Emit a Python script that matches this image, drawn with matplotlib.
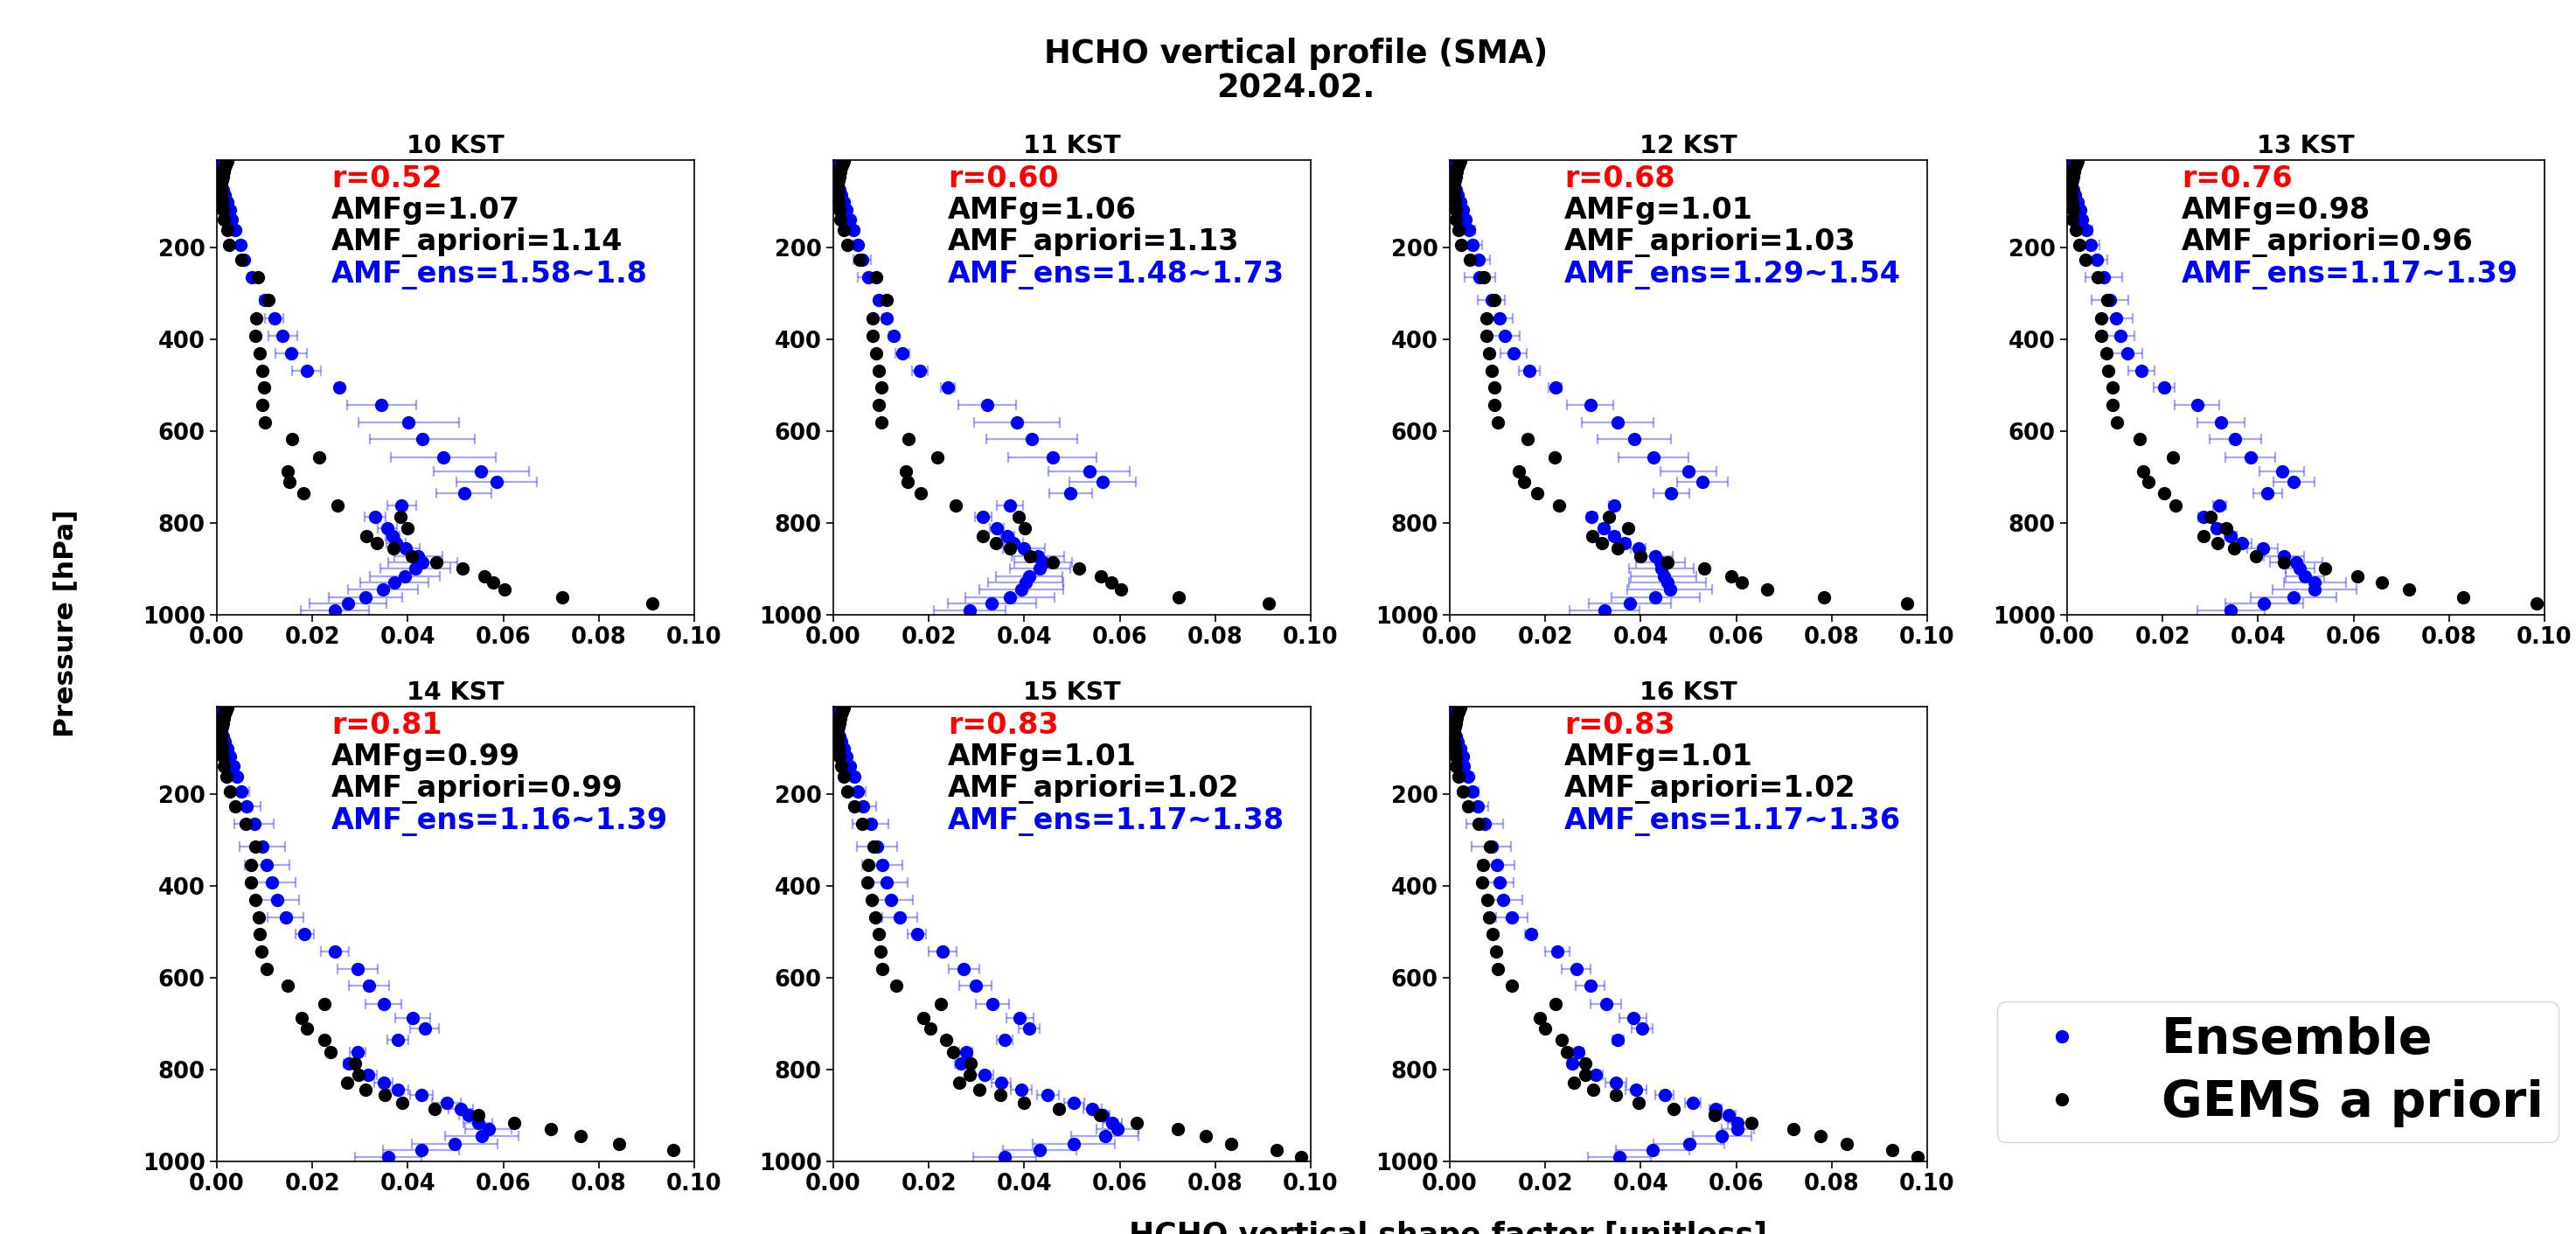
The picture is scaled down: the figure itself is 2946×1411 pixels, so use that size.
import numpy as np
import matplotlib
matplotlib.use("Agg")
import matplotlib.pyplot as plt
from matplotlib.lines import Line2D
from matplotlib.ticker import FormatStrFormatter

nan = np.nan

# ---------------------------------------------------------------- data
hours = ["10 KST", "11 KST", "12 KST", "13 KST", "14 KST", "15 KST", "16 KST"]
r_text = ["0.52", "0.60", "0.68", "0.76", "0.81", "0.83", "0.83"]
amfg_text = ["1.07", "1.06", "1.01", "0.98", "0.99", "1.01", "1.01"]
amf_apriori_text = ["1.14", "1.13", "1.03", "0.96", "0.99", "1.02", "1.02"]
amf_ens_text = ["1.58~1.8", "1.48~1.73", "1.29~1.54", "1.17~1.39",
                "1.16~1.39", "1.17~1.38", "1.17~1.36"]

# pressure levels [hPa], surface upward
p_lower = [990, 975, 961, 944, 930, 917, 900, 886, 873, 856, 843, 828, 811,
           786, 762, 735, 711, 687, 657, 618, 581, 543, 505, 468, 430, 393,
           355, 314, 265, 227, 194, 162, 139]
p_upper = [119, 101, 87, 74, 63, 54, 46, 40, 34, 29, 25, 21, 18, 15, 13, 11]

# upper-level shape factors (nearly identical for every hour)
ens_upper = [0.0027, 0.0022, 0.0017, 0.0012, 0.0008, 0.0006, 0.0004, 0.0003,
             0.0002, 0.0002, 0.0001, 0.0001, 0.0001, 0.0001, 0.0001, 0.0001]
apr_upper = [0.0012, 0.0011, 0.0010, 0.0010, 0.0010, 0.0011, 0.0012, 0.0013,
             0.0014, 0.0015, 0.0016, 0.0018, 0.0019, 0.0020, 0.0021, 0.0022]
err_upper = [0.0] * 16

# ensemble mean shape factor
ens_10 = [0.0247, 0.0275, 0.0311, 0.0348, 0.0372, 0.0394, 0.0416, 0.0431, 0.0422, 0.0395, 0.0375,
          0.0368, 0.0357, 0.0332, 0.0387, 0.0518, 0.0586, 0.0554, 0.0474, 0.0430, 0.0402, 0.0345,
          0.0257, 0.0188, 0.0155, 0.0138, 0.0120, 0.0100, 0.0074, 0.0057, 0.0049, 0.0039, 0.0032]
ens_11 = [0.0286, 0.0332, 0.0370, 0.0394, 0.0403, 0.0410, 0.0433, 0.0440, 0.0428, 0.0400, 0.0378,
          0.0364, 0.0343, 0.0314, 0.0370, 0.0497, 0.0564, 0.0536, 0.0459, 0.0416, 0.0384, 0.0322,
          0.0240, 0.0181, 0.0145, 0.0127, 0.0111, 0.0096, 0.0074, 0.0061, 0.0051, 0.0042, 0.0034]
ens_12 = [0.0324, 0.0377, 0.0431, 0.0461, 0.0456, 0.0448, 0.0443, 0.0441, 0.0431, 0.0395, 0.0367,
          0.0344, 0.0323, 0.0297, 0.0344, 0.0464, 0.0529, 0.0500, 0.0427, 0.0387, 0.0351, 0.0294,
          0.0221, 0.0167, 0.0134, 0.0116, 0.0104, 0.0087, 0.0063, 0.0060, 0.0048, 0.0041, 0.0033]
ens_13 = [0.0343, 0.0413, 0.0475, 0.0519, 0.0519, 0.0498, 0.0488, 0.0480, 0.0454, 0.0410, 0.0366,
          0.0342, 0.0314, 0.0285, 0.0319, 0.0420, 0.0475, 0.0450, 0.0384, 0.0352, 0.0322, 0.0272,
          0.0203, 0.0156, 0.0126, 0.0112, 0.0102, 0.0090, 0.0077, 0.0063, 0.0050, 0.0041, 0.0032]
ens_14 = [0.0359, 0.0428, 0.0498, 0.0555, 0.0569, 0.0547, 0.0527, 0.0511, 0.0481, 0.0428, 0.0380,
          0.0349, 0.0316, 0.0276, 0.0295, 0.0380, 0.0435, 0.0410, 0.0349, 0.0318, 0.0295, 0.0247,
          0.0184, 0.0144, 0.0127, 0.0116, 0.0105, 0.0095, 0.0078, 0.0063, 0.0052, 0.0042, 0.0034]
ens_15 = [0.0359, 0.0432, 0.0504, 0.0569, 0.0596, 0.0584, 0.0565, 0.0543, 0.0504, 0.0449, 0.0394,
          0.0352, 0.0316, 0.0267, 0.0278, 0.0359, 0.0410, 0.0391, 0.0334, 0.0298, 0.0273, 0.0229,
          0.0175, 0.0139, 0.0121, 0.0112, 0.0102, 0.0091, 0.0078, 0.0063, 0.0052, 0.0044, 0.0034]
ens_16 = [0.0355, 0.0425, 0.0501, 0.0570, 0.0603, 0.0603, 0.0584, 0.0557, 0.0509, 0.0450, 0.0391,
          0.0348, 0.0305, 0.0257, 0.0269, 0.0352, 0.0403, 0.0384, 0.0327, 0.0294, 0.0265, 0.0225,
          0.0170, 0.0130, 0.0112, 0.0104, 0.0098, 0.0087, 0.0073, 0.0058, 0.0048, 0.0039, 0.0029]

# ensemble spread (half width)
err_10 = [0.0072, 0.0080, 0.0077, 0.0074, 0.0072, 0.0073, 0.0073, 0.0072, 0.0050, 0.0030, 0.0020,
          0.0015, 0.0020, 0.0022, 0.0030, 0.0058, 0.0085, 0.0100, 0.0110, 0.0110, 0.0106, 0.0073,
          0.0008, 0.0030, 0.0033, 0.0030, 0.0019, 0.0010, 0.0008, 0.0008, 0.0005, 0.0005, 0.0003]
err_11 = [0.0075, 0.0092, 0.0094, 0.0088, 0.0078, 0.0069, 0.0063, 0.0060, 0.0055, 0.0044, 0.0020,
          0.0015, 0.0015, 0.0018, 0.0027, 0.0045, 0.0069, 0.0085, 0.0092, 0.0095, 0.0090, 0.0061,
          0.0014, 0.0017, 0.0015, 0.0009, 0.0008, 0.0008, 0.0022, 0.0018, 0.0008, 0.0005, 0.0003]
err_12 = [0.0073, 0.0086, 0.0093, 0.0089, 0.0080, 0.0068, 0.0068, 0.0051, 0.0036, 0.0015, 0.0010,
          0.0010, 0.0010, 0.0010, 0.0010, 0.0037, 0.0053, 0.0059, 0.0073, 0.0077, 0.0075, 0.0048,
          0.0014, 0.0022, 0.0027, 0.0030, 0.0027, 0.0028, 0.0032, 0.0025, 0.0019, 0.0013, 0.0008]
err_13 = [0.0071, 0.0082, 0.0090, 0.0088, 0.0065, 0.0040, 0.0030, 0.0055, 0.0042, 0.0032, 0.0021,
          0.0013, 0.0010, 0.0010, 0.0014, 0.0030, 0.0043, 0.0047, 0.0052, 0.0054, 0.0050, 0.0046,
          0.0022, 0.0027, 0.0032, 0.0029, 0.0036, 0.0039, 0.0039, 0.0021, 0.0017, 0.0012, 0.0006]
err_14 = [0.0069, 0.0080, 0.0089, 0.0077, 0.0049, 0.0030, 0.0020, 0.0025, 0.0030, 0.0024, 0.0022,
          0.0020, 0.0020, 0.0010, 0.0016, 0.0022, 0.0031, 0.0036, 0.0038, 0.0042, 0.0042, 0.0029,
          0.0019, 0.0037, 0.0045, 0.0048, 0.0047, 0.0047, 0.0041, 0.0028, 0.0015, 0.0008, 0.0005]
err_15 = [0.0066, 0.0077, 0.0086, 0.0070, 0.0044, 0.0020, 0.0014, 0.0019, 0.0021, 0.0023, 0.0022,
          0.0020, 0.0020, 0.0012, 0.0014, 0.0016, 0.0022, 0.0029, 0.0035, 0.0034, 0.0032, 0.0030,
          0.0019, 0.0037, 0.0045, 0.0043, 0.0042, 0.0042, 0.0037, 0.0026, 0.0016, 0.0008, 0.0005]
err_16 = [0.0066, 0.0077, 0.0075, 0.0061, 0.0034, 0.0020, 0.0015, 0.0013, 0.0017, 0.0019, 0.0022,
          0.0022, 0.0015, 0.0010, 0.0012, 0.0012, 0.0022, 0.0029, 0.0032, 0.0030, 0.0030, 0.0025,
          0.0012, 0.0033, 0.0040, 0.0030, 0.0037, 0.0041, 0.0038, 0.0022, 0.0013, 0.0008, 0.0005]

# GEMS a priori shape factor
apr_10 = [nan, 0.0912, 0.0724, 0.0603, 0.0579, 0.0561, 0.0514, 0.0459, 0.0409, 0.0370, 0.0336,
          0.0314, 0.0399, 0.0384, 0.0253, 0.0181, 0.0152, 0.0149, 0.0214, 0.0157, 0.0101, 0.0095,
          0.0098, 0.0095, 0.0090, 0.0080, 0.0083, 0.0108, 0.0086, 0.0051, 0.0026, 0.0022, 0.0014]
apr_11 = [nan, 0.0912, 0.0724, 0.0603, 0.0582, 0.0561, 0.0514, 0.0459, 0.0412, 0.0370, 0.0340,
          0.0314, 0.0402, 0.0389, 0.0257, 0.0184, 0.0155, 0.0152, 0.0218, 0.0157, 0.0101, 0.0095,
          0.0101, 0.0095, 0.0090, 0.0083, 0.0083, 0.0111, 0.0090, 0.0055, 0.0029, 0.0022, 0.0014]
apr_12 = [nan, 0.0957, 0.0783, 0.0664, 0.0612, 0.0590, 0.0533, 0.0456, 0.0399, 0.0351, 0.0319,
          0.0299, 0.0373, 0.0333, 0.0229, 0.0184, 0.0156, 0.0144, 0.0220, 0.0163, 0.0100, 0.0094,
          0.0094, 0.0087, 0.0083, 0.0077, 0.0077, 0.0094, 0.0071, 0.0043, 0.0024, 0.0019, 0.0012]
apr_13 = [nan, 0.0983, 0.0829, 0.0717, 0.0659, 0.0608, 0.0540, 0.0455, 0.0396, 0.0350, 0.0315,
          0.0285, 0.0333, 0.0300, 0.0228, 0.0203, 0.0170, 0.0160, 0.0221, 0.0152, 0.0105, 0.0095,
          0.0095, 0.0086, 0.0083, 0.0071, 0.0071, 0.0084, 0.0065, 0.0039, 0.0025, 0.0018, 0.0011]
apr_14 = [nan, 0.0956, 0.0842, 0.0762, 0.0699, 0.0622, 0.0547, 0.0456, 0.0388, 0.0352, 0.0311,
          0.0272, 0.0297, 0.0290, 0.0239, 0.0225, 0.0188, 0.0178, 0.0225, 0.0148, 0.0105, 0.0093,
          0.0090, 0.0087, 0.0080, 0.0072, 0.0072, 0.0080, 0.0061, 0.0039, 0.0028, 0.0020, 0.0014]
apr_15 = [0.0980, 0.0929, 0.0834, 0.0780, 0.0722, 0.0635, 0.0559, 0.0472, 0.0399, 0.0349, 0.0305,
          0.0264, 0.0286, 0.0288, 0.0251, 0.0236, 0.0203, 0.0188, 0.0225, 0.0131, 0.0102, 0.0098,
          0.0095, 0.0087, 0.0080, 0.0072, 0.0074, 0.0085, 0.0061, 0.0044, 0.0029, 0.0022, 0.0017]
apr_16 = [0.0980, 0.0927, 0.0832, 0.0777, 0.0720, 0.0632, 0.0555, 0.0468, 0.0396, 0.0348, 0.0301,
          0.0260, 0.0284, 0.0284, 0.0246, 0.0235, 0.0199, 0.0189, 0.0221, 0.0130, 0.0100, 0.0097,
          0.0089, 0.0082, 0.0079, 0.0068, 0.0070, 0.0084, 0.0060, 0.0039, 0.0028, 0.0018, 0.0012]

ensemble = [ens_10, ens_11, ens_12, ens_13, ens_14, ens_15, ens_16]
spread = [err_10, err_11, err_12, err_13, err_14, err_15, err_16]
apriori = [apr_10, apr_11, apr_12, apr_13, apr_14, apr_15, apr_16]

x_ticks = [0.0, 0.02, 0.04, 0.06, 0.08, 0.10]
y_ticks = [200, 400, 600, 800, 1000]

# ---------------------------------------------------------------- figure
plt.rcParams.update({
    "font.family": "DejaVu Sans",
    "font.weight": "bold",
    "axes.titleweight": "bold",
    "axes.labelweight": "bold",
})

W, H = 2946, 1411
fig = plt.figure(figsize=(W / 100, H / 100), dpi=100)

col_left = [248, 953, 1658, 2364]
row_bottom = [703, 1328]
ax_w, ax_h = 546, 520

pressure = p_lower + p_upper
for i, hour in enumerate(hours):
    row, col = divmod(i, 4)
    ax = fig.add_axes([col_left[col] / W, 1 - row_bottom[row] / H, ax_w / W, ax_h / H])

    ens = ensemble[i] + ens_upper
    err = spread[i] + err_upper
    apr = apriori[i] + apr_upper

    ax.errorbar(ens, pressure, xerr=err, fmt="o", ms=10, color="blue",
                ecolor=(0, 0, 1, 0.35), elinewidth=1.6, capsize=4, capthick=1.6,
                zorder=2)
    ax.plot(apr, pressure, "o", ms=10, color="black", zorder=3)

    ax.set_xlim(0, 0.1)
    ax.set_ylim(1000, 10)
    ax.set_xticks(x_ticks)
    ax.set_yticks(y_ticks)
    ax.xaxis.set_major_formatter(FormatStrFormatter("%.2f"))
    ax.tick_params(labelsize=18.5, length=6, width=1.2)
    for s in ax.spines.values():
        s.set_linewidth(1.2)
    ax.set_title(hour, fontsize=20.5)

    tx = 0.24
    ax.text(tx, 0.959, f"r={r_text[i]}", transform=ax.transAxes, color="red",
            fontsize=24, va="center", ha="left")
    ax.text(tx, 0.889, f"AMFg={amfg_text[i]}", transform=ax.transAxes, color="black",
            fontsize=24, va="center", ha="left")
    ax.text(tx, 0.819, f"AMF_apriori={amf_apriori_text[i]}", transform=ax.transAxes,
            color="black", fontsize=24, va="center", ha="left")
    ax.text(tx, 0.748, f"AMF_ens={amf_ens_text[i]}", transform=ax.transAxes,
            color="blue", fontsize=24, va="center", ha="left")

fig.text(0.503, 0.9426, "HCHO vertical profile (SMA)\n2024.02.", ha="center",
         va="center", fontsize=26.5, fontweight="bold", linespacing=1.1)
fig.text(0.0255, 0.4947, "Pressure [hPa]", rotation=90, ha="center", va="center",
         fontsize=22.5, fontweight="bold")
fig.text(0.562, 0.0106, "HCHO vertical shape factor [unitless]", ha="center",
         va="top", fontsize=25, fontweight="bold")

handles = [
    Line2D([], [], marker="o", ls="none", color="blue", ms=10, label="Ensemble"),
    Line2D([], [], marker="o", ls="none", color="black", ms=10, label="GEMS a priori"),
]
fig.legend(handles=handles, loc="lower right", bbox_to_anchor=(0.9932, 0.0744),
           borderaxespad=0, borderpad=0.3, labelspacing=0.3, handletextpad=1.0,
           prop={"size": 41, "weight": "bold"})

fig.savefig("out.png", dpi=100)
